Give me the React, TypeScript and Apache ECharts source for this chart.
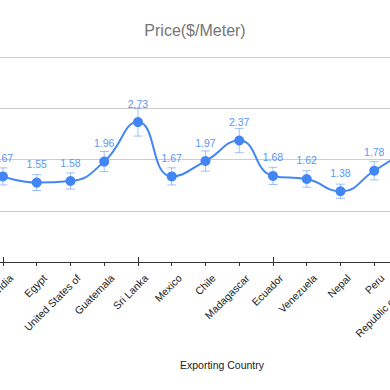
import React, { useEffect, useRef } from "react";
import * as echarts from "echarts";

const categories = [
  "India",
  "Egypt",
  "United States of",
  "Guatemala",
  "Sri Lanka",
  "Mexico",
  "Chile",
  "Madagascar",
  "Ecuador",
  "Venezuela",
  "Nepal",
  "Peru",
  "Republic of Korea",
];
const prices = [1.67, 1.55, 1.58, 1.96, 2.73, 1.67, 1.97, 2.37, 1.68, 1.62, 1.38, 1.78, 2.2];
const errorPercent = 0.1; // error bars: percent of value
const yTicks = [0, 1, 2, 3, 4];

const FONT = "'Liberation Sans', Arial, sans-serif";
const BLUE = "#4285f4";
const OFFSET = 40; // the visible window starts this far into the chart
const CHART_W = 500;

export default function App() {
  const ref = useRef<HTMLDivElement>(null);
  useEffect(() => {
    if (!ref.current) return;
    const chart = echarts.init(ref.current, undefined, { renderer: "svg" });
    const errData = categories.map((_, i) => [i, prices[i]]);
    const gridLeft = OFFSET - 13.9;
    const gridWidth = 438.75;
    chart.setOption({
      animation: false,
      backgroundColor: "#ffffff",
      grid: { left: gridLeft, right: CHART_W - gridLeft - gridWidth, top: 57, bottom: 128 },
      graphic: [
        {
          type: "text",
          x: OFFSET + 195,
          y: 30,
          style: {
            text: "Price($/Meter)",
            fontFamily: FONT,
            fontSize: 16,
            fill: "#757575",
            textAlign: "center",
            textVerticalAlign: "middle",
          },
        },
        {
          type: "text",
          x: OFFSET + 222,
          y: 365,
          style: {
            text: "Exporting Country",
            fontFamily: FONT,
            fontSize: 10.5,
            fill: "#222222",
            textAlign: "center",
            textVerticalAlign: "middle",
          },
        },
      ],
      xAxis: [
        {
          type: "category",
          data: categories,
          boundaryGap: true,
          axisLine: { show: true, lineStyle: { color: "#333333", width: 1 } },
          axisTick: { show: true, alignWithLabel: true, length: 4, lineStyle: { color: "#333333" } },
          axisLabel: {
            interval: 0,
            rotate: 45,
            margin: 6,
            fontFamily: FONT,
            fontSize: 10.5,
            color: "#222222",
            align: "right",
            verticalAlign: "top",
            lineHeight: 24,
          },
        },
        {
          type: "category",
          data: categories,
          position: "bottom",
          boundaryGap: true,
          axisLine: { show: false },
          axisLabel: { show: false },
          axisTick: { show: true, inside: true, alignWithLabel: true, length: 5, lineStyle: { color: "#333333" } },
        },
      ],
      yAxis: {
        type: "value",
        min: yTicks[0],
        max: yTicks[yTicks.length - 1],
        interval: 1,
        axisLine: { show: false },
        axisTick: { show: false },
        axisLabel: { show: false },
        splitLine: { show: true, lineStyle: { color: "#cccccc", width: 1 } },
      },
      series: [
        {
          type: "custom",
          xAxisIndex: 0,
          z: 1,
          data: errData,
          encode: { x: 0, y: 1 },
          renderItem: (params: any, api: any) => {
            const x = api.value(0);
            const v = api.value(1);
            const lo = api.coord([x, v * (1 - errorPercent)]);
            const hi = api.coord([x, v * (1 + errorPercent)]);
            const hw = 4.5;
            const style = { stroke: "rgba(66,133,244,0.5)", lineWidth: 1 };
            return {
              type: "group",
              children: [
                { type: "line", shape: { x1: lo[0], y1: lo[1], x2: hi[0], y2: hi[1] }, style },
                { type: "line", shape: { x1: lo[0] - hw, y1: lo[1], x2: lo[0] + hw, y2: lo[1] }, style },
                { type: "line", shape: { x1: hi[0] - hw, y1: hi[1], x2: hi[0] + hw, y2: hi[1] }, style },
              ],
            };
          },
        },
        {
          type: "line",
          xAxisIndex: 0,
          z: 3,
          data: prices,
          smooth: 0.5,
          symbol: "circle",
          symbolSize: 10,
          lineStyle: { color: BLUE, width: 2 },
          itemStyle: { color: BLUE },
          label: {
            show: true,
            position: "top",
            distance: 8,
            fontFamily: FONT,
            fontSize: 10.5,
            color: "#5b95f5",
          },
        },
      ],
    });
    return () => chart.dispose();
  }, []);
  return (
    <div
      style={{
        position: "fixed",
        left: 0,
        top: 0,
        width: 390,
        height: 390,
        overflow: "hidden",
        background: "#fff",
      }}
    >
      <div
        ref={ref}
        style={{ position: "absolute", left: -OFFSET, top: 0, width: CHART_W, height: 390 }}
      />
    </div>
  );
}
